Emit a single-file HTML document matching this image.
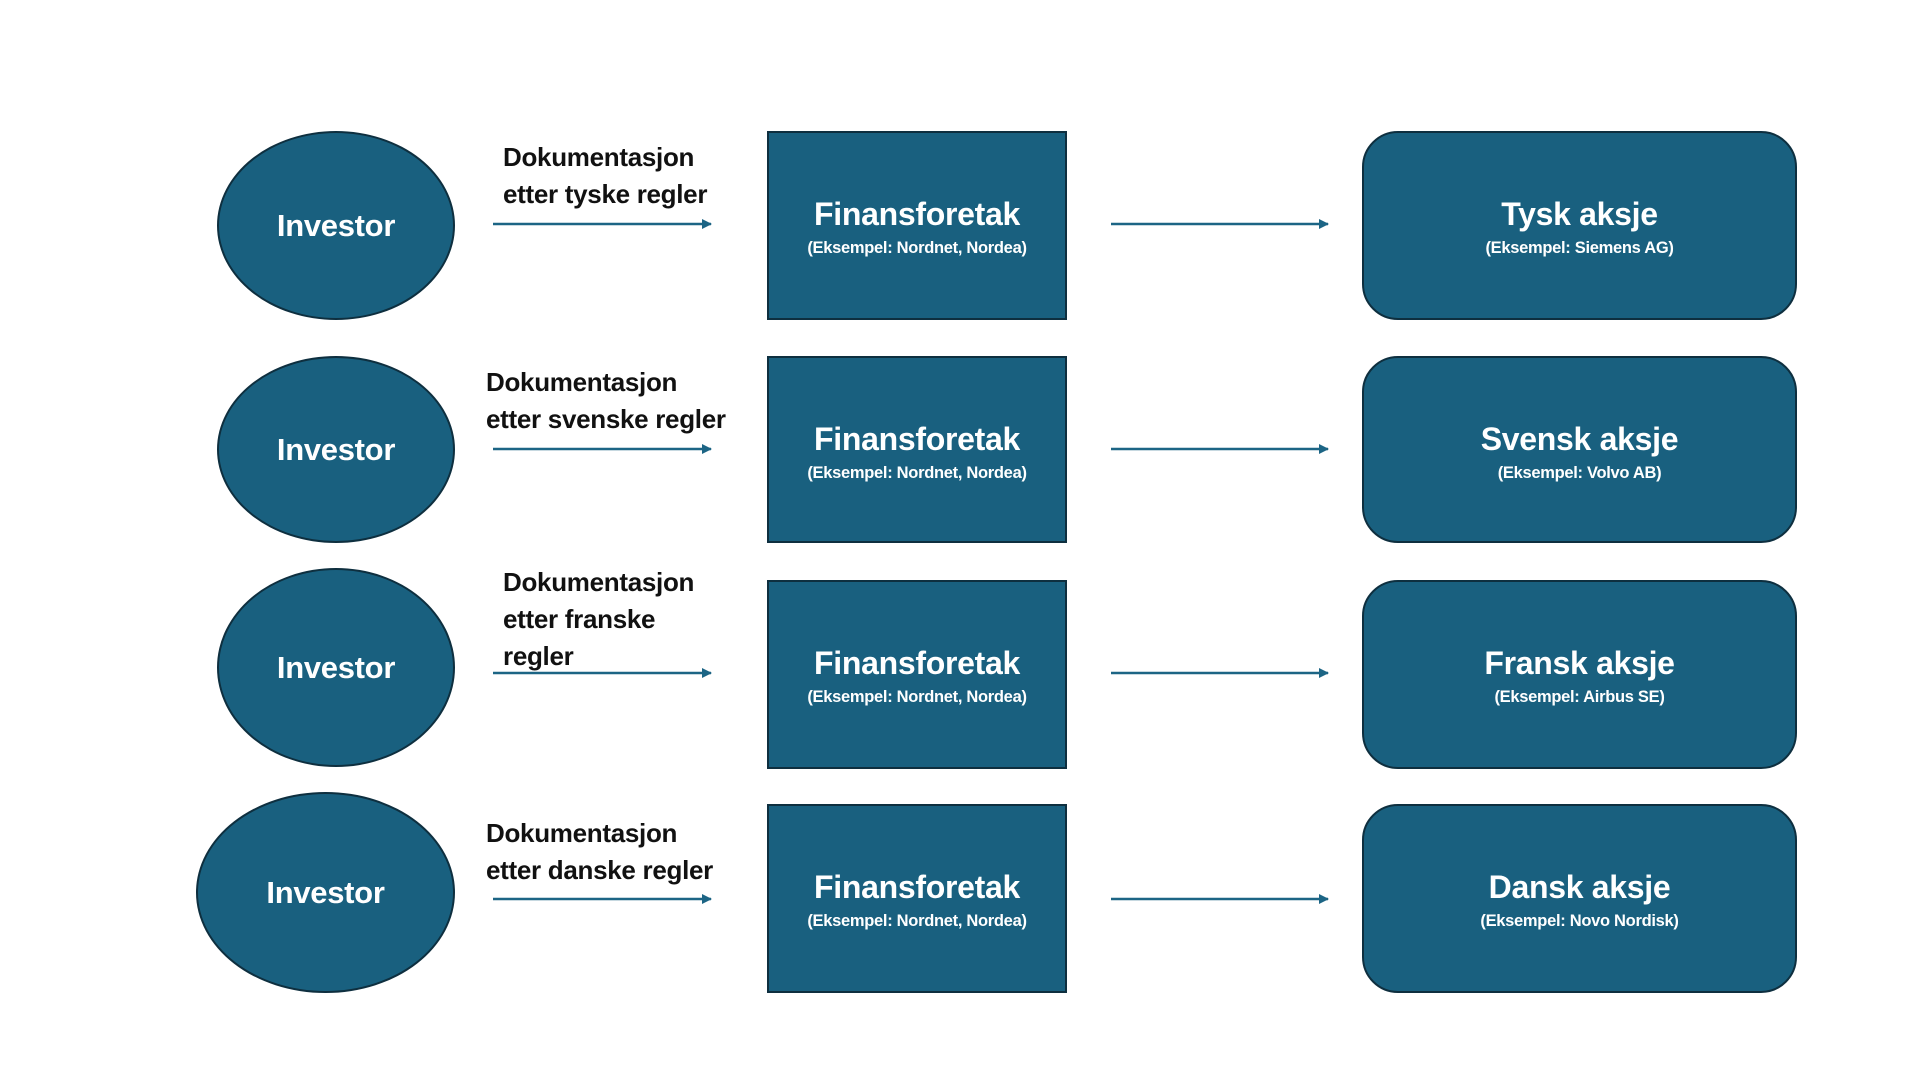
<!DOCTYPE html>
<html><head><meta charset="utf-8"><style>
html,body{margin:0;padding:0;background:#fff;}
body{width:1920px;height:1080px;position:relative;overflow:hidden;font-family:"Liberation Sans",sans-serif;font-weight:bold;}
.s{position:absolute;background:#19607f;border:2.5px solid #0e2f3f;box-sizing:border-box;color:#fff;text-align:center;}
.c{border-radius:50%;display:flex;align-items:center;justify-content:center;font-size:31px;letter-spacing:-0.3px;}
.b .t,.r .t{position:absolute;left:0;right:0;top:61px;font-size:32px;letter-spacing:-0.3px;line-height:40px;}
.b .u,.r .u{position:absolute;left:0;right:0;top:105px;font-size:16.5px;letter-spacing:-0.3px;line-height:20px;}
.r{border-radius:36px;}
.l{position:absolute;font-size:26px;line-height:37px;color:#111;letter-spacing:-0.3px;white-space:nowrap;}
</style></head><body>
<svg width="1920" height="1080" style="position:absolute;left:0;top:0">
<defs><marker id="a" markerWidth="10" markerHeight="10" refX="9" refY="5" orient="auto" markerUnits="userSpaceOnUse"><path d="M0,0 L10,5 L0,10 z" fill="#1c6585"/></marker></defs>
<g stroke="#1c6585" stroke-width="2.5" marker-end="url(#a)">
<line x1="493" y1="224" x2="711" y2="224"/><line x1="1111" y1="224" x2="1328" y2="224"/>
<line x1="493" y1="449" x2="711" y2="449"/><line x1="1111" y1="449" x2="1328" y2="449"/>
<line x1="493" y1="673" x2="711" y2="673"/><line x1="1111" y1="673" x2="1328" y2="673"/>
<line x1="493" y1="899" x2="711" y2="899"/><line x1="1111" y1="899" x2="1328" y2="899"/>
</g></svg>

<div class="s c" style="left:217px;top:131px;width:238px;height:189px">Investor</div>
<div class="s c" style="left:217px;top:356px;width:238px;height:187px">Investor</div>
<div class="s c" style="left:217px;top:568px;width:238px;height:199px">Investor</div>
<div class="s c" style="left:196px;top:792px;width:259px;height:201px">Investor</div>

<div class="s b" style="left:767px;top:131px;width:300px;height:189px"><div class="t">Finansforetak</div><div class="u">(Eksempel: Nordnet, Nordea)</div></div>
<div class="s b" style="left:767px;top:356px;width:300px;height:187px"><div class="t">Finansforetak</div><div class="u">(Eksempel: Nordnet, Nordea)</div></div>
<div class="s b" style="left:767px;top:580px;width:300px;height:189px"><div class="t">Finansforetak</div><div class="u">(Eksempel: Nordnet, Nordea)</div></div>
<div class="s b" style="left:767px;top:804px;width:300px;height:189px"><div class="t">Finansforetak</div><div class="u">(Eksempel: Nordnet, Nordea)</div></div>

<div class="s r" style="left:1362px;top:131px;width:435px;height:189px"><div class="t">Tysk aksje</div><div class="u">(Eksempel: Siemens AG)</div></div>
<div class="s r" style="left:1362px;top:356px;width:435px;height:187px"><div class="t">Svensk aksje</div><div class="u">(Eksempel: Volvo AB)</div></div>
<div class="s r" style="left:1362px;top:580px;width:435px;height:189px"><div class="t">Fransk aksje</div><div class="u">(Eksempel: Airbus SE)</div></div>
<div class="s r" style="left:1362px;top:804px;width:435px;height:189px"><div class="t">Dansk aksje</div><div class="u">(Eksempel: Novo Nordisk)</div></div>

<div class="l" style="left:503px;top:139px">Dokumentasjon<br>etter tyske regler</div>
<div class="l" style="left:486px;top:364px">Dokumentasjon<br>etter svenske regler</div>
<div class="l" style="left:503px;top:564px">Dokumentasjon<br>etter franske<br>regler</div>
<div class="l" style="left:486px;top:815px">Dokumentasjon<br>etter danske regler</div>
</body></html>
